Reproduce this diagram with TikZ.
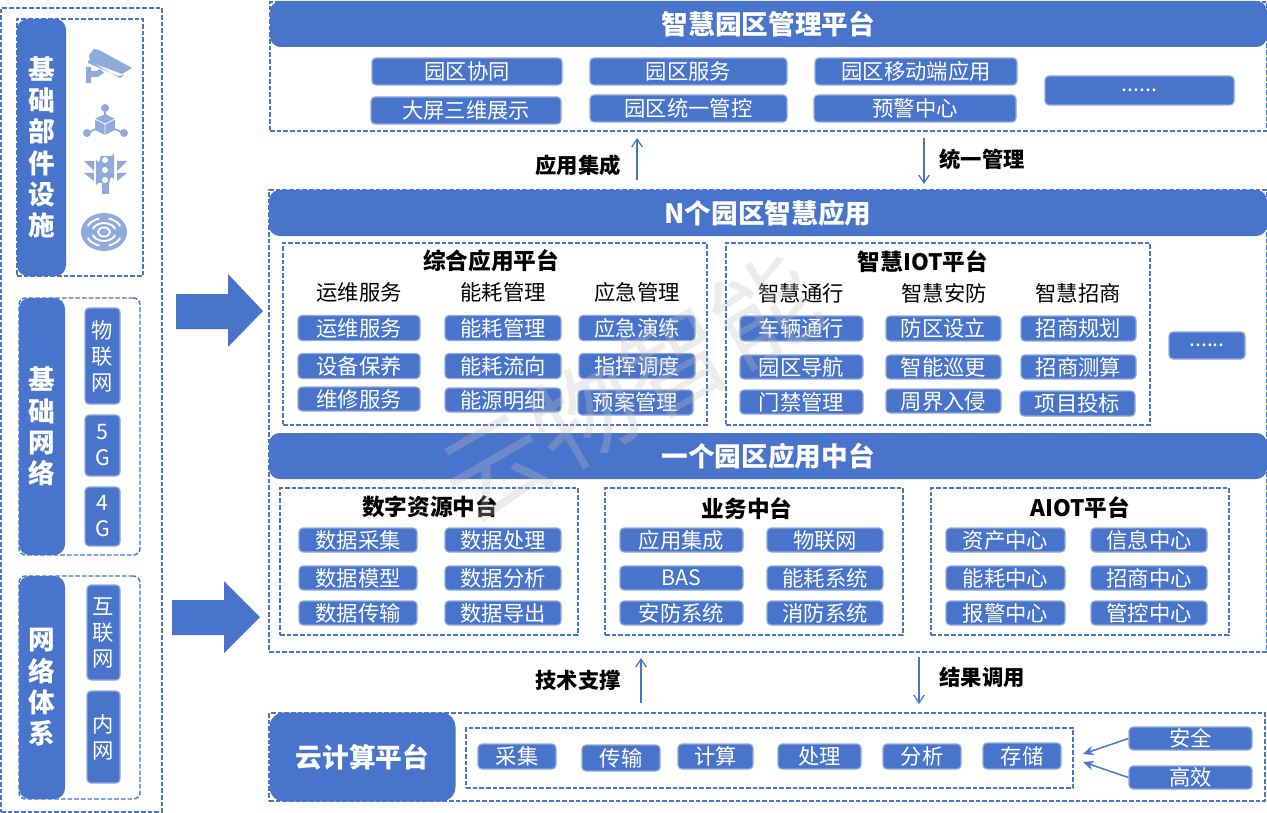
\documentclass[tikz,border=0pt]{standalone}
\usepackage{fontspec}
\setmainfont{Noto Sans CJK SC}
\usetikzlibrary{arrows.meta}
\definecolor{mainblue}{HTML}{4874CB}
\definecolor{edgeblue}{HTML}{8FAADC}
\tikzset{w/.style={minimum width=#1*0.75pt},h/.style={minimum height=#1*0.75pt}}
\tikzstyle{dashbox}=[shape=rectangle,draw=mainblue,line width=1.1pt,dash pattern=on 3.5pt off 1.5pt,inner sep=0pt]
\tikzstyle{item}=[shape=rectangle,rounded corners=3pt,draw=edgeblue,line width=0.9pt,fill=mainblue,text=white,inner sep=0pt,h=25,font=\fontsize{16}{19.5}\selectfont,align=center]
\tikzstyle{bar}=[shape=rectangle,rounded corners=8pt,fill=mainblue,text=white,inner sep=0pt,font=\bfseries\fontsize{20}{23.5}\selectfont,align=center]
\tikzstyle{head}=[inner sep=0pt,font=\fontsize{16}{19}\selectfont]
\tikzstyle{title}=[inner sep=0pt,font=\bfseries\fontsize{17}{20}\selectfont]
\tikzstyle{tag}=[inner sep=0pt,font=\bfseries\fontsize{16}{19}\selectfont]
\tikzstyle{thin}=[draw=mainblue,line width=0.9pt,-{Straight Barb[length=6pt,width=8pt]}]
\tikzstyle{side}=[draw=mainblue,line width=1.1pt,-{Stealth[length=8pt,width=7pt]}]
\tikzstyle{ring}=[draw=white,line width=1.4pt]
\begin{document}
\begin{tikzpicture}[x=0.75pt,y=-0.75pt]
\useasboundingbox (0,0) rectangle (1267,813);
% left column
\node[dashbox,w=161,h=804] (leftbox) at (81.5,410) {};
\node[dashbox,w=126,h=257] (partbox) at (80,147.5) {};
\node[bar,w=49,h=257] (partbar) at (41.5,147.5) {基\\础\\部\\件\\设\\施};
\node[dashbox,rounded corners=5pt,w=121,h=257] (netbox) at (79.5,426.5) {};
\node[bar,w=46,h=257] (netbar) at (42,426.5) {基\\础\\网\\络};
\node[item,w=35,h=96] (iot) at (102.5,356) {物\\联\\网};
\node[item,w=35,h=61] (g5) at (102.5,445.5) {5\\G};
\node[item,w=35,h=59] (g4) at (102.5,516.5) {4\\G};
\node[dashbox,rounded corners=5pt,w=121,h=223] (sysbox) at (79.5,687.5) {};
\node[bar,w=46,h=223] (sysbar) at (42,687.5) {网\\络\\体\\系};
\node[item,w=33,h=95] (web) at (103.5,632.5) {互\\联\\网};
\node[item,w=33,h=92] (lan) at (103.5,737) {内\\网};
% icons
\fill[edgeblue] (89,55) -- (94,49) -- (99,50) -- (132,68) -- (122,74) -- (90,62) -- cycle;
\fill[edgeblue] (88,60) -- (120,78) -- (124,75) -- (118,76) -- (88,63) -- cycle;
\fill[edgeblue] (86,67) -- (91,67) -- (91,71) -- (97,71) -- (100,69) -- (104,73) -- (98,77) -- (91,77) -- (91,83) -- (86,83) -- cycle;
\draw[edgeblue,line width=1.3pt] (105,108) -- (105,125) -- (87,133) (105,125) -- (124,133);
\fill[edgeblue] (105,108) circle (4) (87,133) circle (4) (124,133) circle (4);
\fill[edgeblue] (105,114) -- (115,119) -- (115,130) -- (105,135) -- (95,130) -- (95,119) -- cycle;
\draw[white,line width=0.6pt] (95,119) -- (105,124) -- (115,119) (105,124) -- (105,135);
\fill[edgeblue] (101,156) -- (111,156) arc (90:0:3) -- (114,180) arc (0:-90:3) -- (109,183) -- (109,194) -- (102,194) -- (102,183) -- (99,183) arc (270:180:3) -- (96,159) arc (180:90:3) -- cycle;
\fill[white] (105,160) circle (3) (105,170) circle (3) (105,180) circle (3);
\fill[edgeblue] (84,161) -- (94,161) -- (94,171) -- cycle (84,173) -- (94,173) -- (94,181) -- cycle;
\fill[edgeblue] (127,161) -- (117,161) -- (117,171) -- cycle (127,173) -- (117,173) -- (117,181) -- cycle;
\fill[edgeblue] (104,232) ellipse (23 and 19);
\draw[ring] (104,232) ellipse (6 and 4.5);
\draw[ring] (104,232) ++(20:12 and 9) arc (20:160:12 and 9);
\draw[ring] (104,232) ++(200:12 and 9) arc (200:340:12 and 9);
\draw[ring] (104,232) ++(25:18 and 14) arc (25:75:18 and 14);
\draw[ring] (104,232) ++(105:18 and 14) arc (105:155:18 and 14);
\draw[ring] (104,232) ++(205:18 and 14) arc (205:255:18 and 14);
\draw[ring] (104,232) ++(285:18 and 14) arc (285:335:18 and 14);
% big arrows
\fill[mainblue] (176,294) -- (228,294) -- (228,274) -- (263,311) -- (228,347) -- (228,329) -- (176,329) -- cycle;
\fill[mainblue] (172,600) -- (224,600) -- (224,581) -- (260,617) -- (224,653) -- (224,635) -- (172,635) -- cycle;
% top panel
\node[dashbox,w=997,h=129] (topbox) at (768.5,66.5) {};
\node[bar,w=997,h=46] (topbar) at (768.5,24) {智慧园区管理平台};
\node[item,w=190,h=27] (t1) at (467,71.5) {园区协同};
\node[item,w=197,h=27] (t2) at (688.5,71.5) {园区服务};
\node[item,w=202,h=27] (t3) at (916,71.5) {园区移动端应用};
\node[item,w=189,h=29] (t4) at (1139.5,90.5) {......};
\node[item,w=190,h=27] (t5) at (466,110.5) {大屏三维展示};
\node[item,w=197,h=27] (t6) at (688.5,108.5) {园区统一管控};
\node[item,w=202,h=27] (t7) at (915,108.5) {预警中心};
\coordinate (a1s) at (637,180);
\coordinate (a1e) at (637,138);
\draw[thin] (a1s) -- (a1e);
\node[tag] (a1t) at (578,165) {应用集成};
\coordinate (a2s) at (924,138);
\coordinate (a2e) at (924,184);
\draw[thin] (a2s) -- (a2e);
\node[tag] (a2t) at (982,159) {统一管理};
% middle panel
\node[dashbox,w=998,h=462] (midbox) at (768,421) {};
\node[bar,w=998,h=46] (nbar) at (768,213) {N个园区智慧应用};
\node[dashbox,w=424,h=182] (appbox) at (495,334) {};
\node[title] (appt) at (491,261) {综合应用平台};
\node[head] (h1) at (359,292) {运维服务};
\node[head] (h2) at (503,292) {能耗管理};
\node[head] (h3) at (637,292) {应急管理};
\node[item,w=122] (p1) at (359,328) {运维服务};
\node[item,w=116] (p2) at (503,328) {能耗管理};
\node[item,w=116] (p3) at (637,328) {应急演练};
\node[item,w=122] (p4) at (359,366) {设备保养};
\node[item,w=116] (p5) at (503,366) {能耗流向};
\node[item,w=116] (p6) at (637,366) {指挥调度};
\node[item,w=122,h=24] (p7) at (359,399) {维修服务};
\node[item,w=116,h=24] (p8) at (503,400) {能源明细};
\node[item,w=115] (p9) at (635.5,402.5) {预案管理};
\node[dashbox,w=424,h=182] (iotbox) at (938,334) {};
\node[title] (iott) at (923,262) {智慧IOT平台};
\node[head] (h4) at (801,293) {智慧通行};
\node[head] (h5) at (944,293) {智慧安防};
\node[head] (h6) at (1078,293) {智慧招商};
\node[item,w=123] (q1) at (801.5,328.5) {车辆通行};
\node[item,w=115] (q2) at (943.5,328.5) {防区设立};
\node[item,w=115] (q3) at (1078.5,328.5) {招商规划};
\node[item,w=123,h=24] (q4) at (801.5,367) {园区导航};
\node[item,w=115,h=24] (q5) at (943.5,367) {智能巡更};
\node[item,w=115,h=24] (q6) at (1078.5,367) {招商测算};
\node[item,w=123,h=24] (q7) at (801.5,402) {门禁管理};
\node[item,w=115,h=24] (q8) at (943.5,401) {周界入侵};
\node[item,w=115] (q9) at (1077.5,403.5) {项目投标};
\node[item,w=76,h=27] (more) at (1207,345.5) {......};
\node[bar,w=998,h=46] (onebar) at (768,456) {一个园区应用中台};
\node[dashbox,w=298,h=147] (databox) at (429,561.5) {};
\node[title] (datat) at (430,507) {数字资源中台};
\node[item,w=118,h=24] (d1) at (358,540) {数据采集};
\node[item,w=116,h=24] (d2) at (503,540) {数据处理};
\node[item,w=118,h=24] (d3) at (358,578) {数据模型};
\node[item,w=116,h=24] (d4) at (503,578) {数据分析};
\node[item,w=118,h=24] (d5) at (358,613) {数据传输};
\node[item,w=116,h=24] (d6) at (503,613) {数据导出};
\node[dashbox,w=298,h=147] (bizbox) at (754,561.5) {};
\node[title] (bizt) at (747,509) {业务中台};
\node[item,w=123,h=24] (b1) at (681.5,540) {应用集成};
\node[item,w=116,h=24] (b2) at (825,540) {物联网};
\node[item,w=123,h=24] (b3) at (681.5,578) {BAS};
\node[item,w=116,h=24] (b4) at (825,578) {能耗系统};
\node[item,w=123,h=24] (b5) at (681.5,613) {安防系统};
\node[item,w=116,h=24] (b6) at (825,613) {消防系统};
\node[dashbox,w=298,h=147] (aibox) at (1080,561.5) {};
\node[title] (ait) at (1080,508) {AIOT平台};
\node[item,w=119,h=24] (c1) at (1005.5,540) {资产中心};
\node[item,w=116,h=24] (c2) at (1149,540) {信息中心};
\node[item,w=119,h=24] (c3) at (1005.5,578) {能耗中心};
\node[item,w=116,h=24] (c4) at (1149,578) {招商中心};
\node[item,w=119,h=24] (c5) at (1005.5,613) {报警中心};
\node[item,w=116,h=24] (c6) at (1149,613) {管控中心};
% links to cloud
\coordinate (a3s) at (641,703);
\coordinate (a3e) at (641,658);
\draw[thin] (a3s) -- (a3e);
\node[tag] (a3t) at (578,680) {技术支撑};
\coordinate (a4s) at (919,657);
\coordinate (a4e) at (919,704);
\draw[thin] (a4s) -- (a4e);
\node[tag] (a4t) at (982,677) {结果调用};
% cloud panel
\node[dashbox,w=996,h=88] (cloudbox) at (767,757) {};
\node[bar,rounded corners=11pt,w=186,h=89] (cloudbar) at (362.5,757) {云计算平台};
\node[dashbox,w=607,h=60] (stepsbox) at (769.5,758) {};
\node[item,w=78] (s1) at (517,756.5) {采集};
\node[item,w=78,h=26] (s2) at (621,758) {传输};
\node[item,w=75] (s3) at (715.5,756.5) {计算};
\node[item,w=83] (s4) at (819.5,756.5) {处理};
\node[item,w=78] (s5) at (922,756.5) {分析};
\node[item,w=78,h=26] (s6) at (1022,756) {存储};
\node[item,w=123,h=23] (safe) at (1190.5,738.5) {安全};
\node[item,w=123,h=23] (fast) at (1190.5,777.5) {高效};
\coordinate (safeend) at (1083,754);
\coordinate (fastend) at (1083,762);
\draw[side] (safe.west) -- (safeend);
\draw[side] (fast.west) -- (fastend);
% watermark
\node[rotate=30,text=black!25,opacity=0.3,inner sep=0pt,font=\fontsize{78}{78}\selectfont] (mark) at (630,388) {云物智能};
\end{tikzpicture}
\end{document}
